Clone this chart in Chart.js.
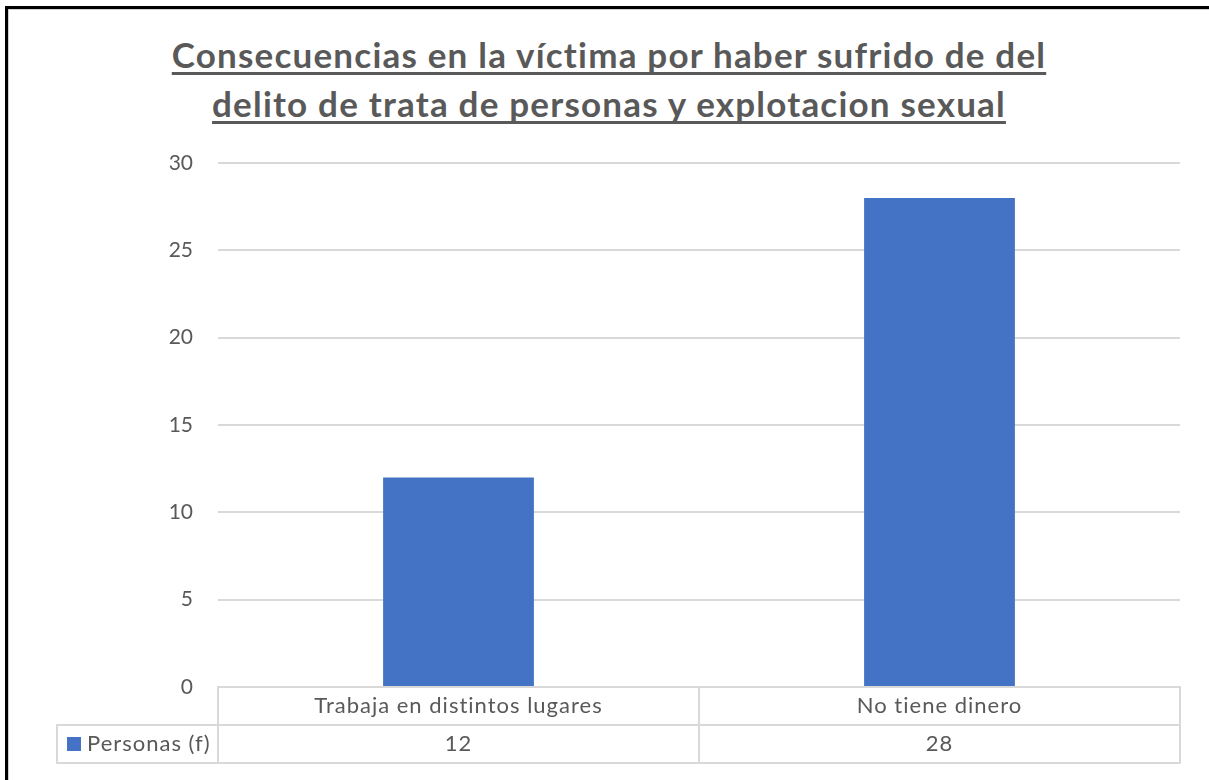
<!DOCTYPE html>
<html>
<head>
<meta charset="utf-8">
<script src="https://cdn.jsdelivr.net/npm/chart.js@4/dist/chart.umd.min.js"></script>
<style>
  html, body { margin: 0; padding: 0; background: #fff; overflow: hidden; }
  #frame {
    position: absolute; left: 5px; top: 6px; width: 1400px; height: 900px;
    border-top: 3px solid #000; border-left: 3px solid #000;
    box-shadow: inset 1px 1px 0 #d0d0d0;
  }
  #title {
    position: absolute; left: 0; top: 30px; width: 1218px; text-align: center;
    font: bold 35px Lato, sans-serif; letter-spacing: 1.2px; line-height: 49px; color: #595959;
    text-decoration: underline; text-decoration-thickness: 3px; text-underline-offset: 4px;
    text-decoration-skip-ink: none;
  }
  #chart { position: absolute; left: 0; top: 0; }
</style>
</head>
<body>
<div id="frame"></div>
<div id="title">Consecuencias en la víctima por haber sufrido de del<br>delito de trata de personas y explotacion sexual</div>
<canvas id="chart" width="1209" height="780"></canvas>
<script>
const categories = ['Trabaja en distintos lugares', 'No tiene dinero']
const seriesName = 'Personas (f)'
const personas = [12, 28]
const yMin = 0
const yMax = 30
const yStep = 5

const gray = '#595959'
const lineGray = '#d9d9d9'
const blue = '#4472c4'
const font = '22px Lato, sans-serif'

// draws the excel style data table under the bars
const dataTable = {
  id: 'dataTable',
  afterDraw(chart) {
    const c = chart.ctx
    const ca = chart.chartArea
    const x = chart.scales.x
    const rowH = 38
    const legendLeft = ca.left - 161
    const colW = (ca.right - ca.left) / categories.length
    const top = ca.bottom
    c.save()
    c.strokeStyle = lineGray
    c.lineWidth = 2
    c.beginPath()
    // header row
    c.rect(ca.left, top, ca.right - ca.left, rowH)
    // value row
    c.rect(legendLeft, top + rowH, ca.right - legendLeft, rowH)
    for (let i = 1; i < categories.length; i++) {
      c.moveTo(ca.left + colW * i, top)
      c.lineTo(ca.left + colW * i, top + rowH * 2)
    }
    c.moveTo(ca.left, top + rowH)
    c.lineTo(ca.left, top + rowH * 2)
    c.stroke()

    c.font = font
    c.letterSpacing = '1px'
    c.fillStyle = gray
    c.textAlign = 'center'
    c.textBaseline = 'middle'
    categories.forEach((cat, i) => {
      const cx = x.getPixelForValue(i)
      c.fillText(cat, cx, top + rowH / 2)
      c.fillText(String(personas[i]), cx, top + rowH * 1.5)
    })

    // legend key
    c.fillStyle = blue
    c.fillRect(legendLeft + 10, top + rowH * 1.5 - 7, 14, 14)
    c.fillStyle = gray
    c.textAlign = 'left'
    c.fillText(seriesName, legendLeft + 30, top + rowH * 1.5)
    c.restore()
  }
}

new Chart(document.getElementById('chart'), {
  type: 'bar',
  data: {
    labels: categories,
    datasets: [{
      label: seriesName,
      data: personas,
      backgroundColor: blue,
      borderWidth: 0,
      barPercentage: 0.3135,
      categoryPercentage: 1
    }]
  },
  options: {
    responsive: false,
    animation: false,
    layout: { padding: { left: 0, right: 29, top: 163, bottom: 93 } },
    plugins: {
      legend: { display: false },
      title: { display: false },
      tooltip: { enabled: false }
    },
    scales: {
      x: { display: false },
      y: {
        min: yMin,
        max: yMax,
        afterFit(scale) { scale.width = 218 },
        border: { display: false },
        grid: { color: lineGray, lineWidth: 2, drawTicks: false },
        ticks: { stepSize: yStep, padding: 25, color: gray, font: { family: 'Lato, sans-serif', size: 21 } }
      }
    }
  },
  plugins: [dataTable]
})
</script>
</body>
</html>
